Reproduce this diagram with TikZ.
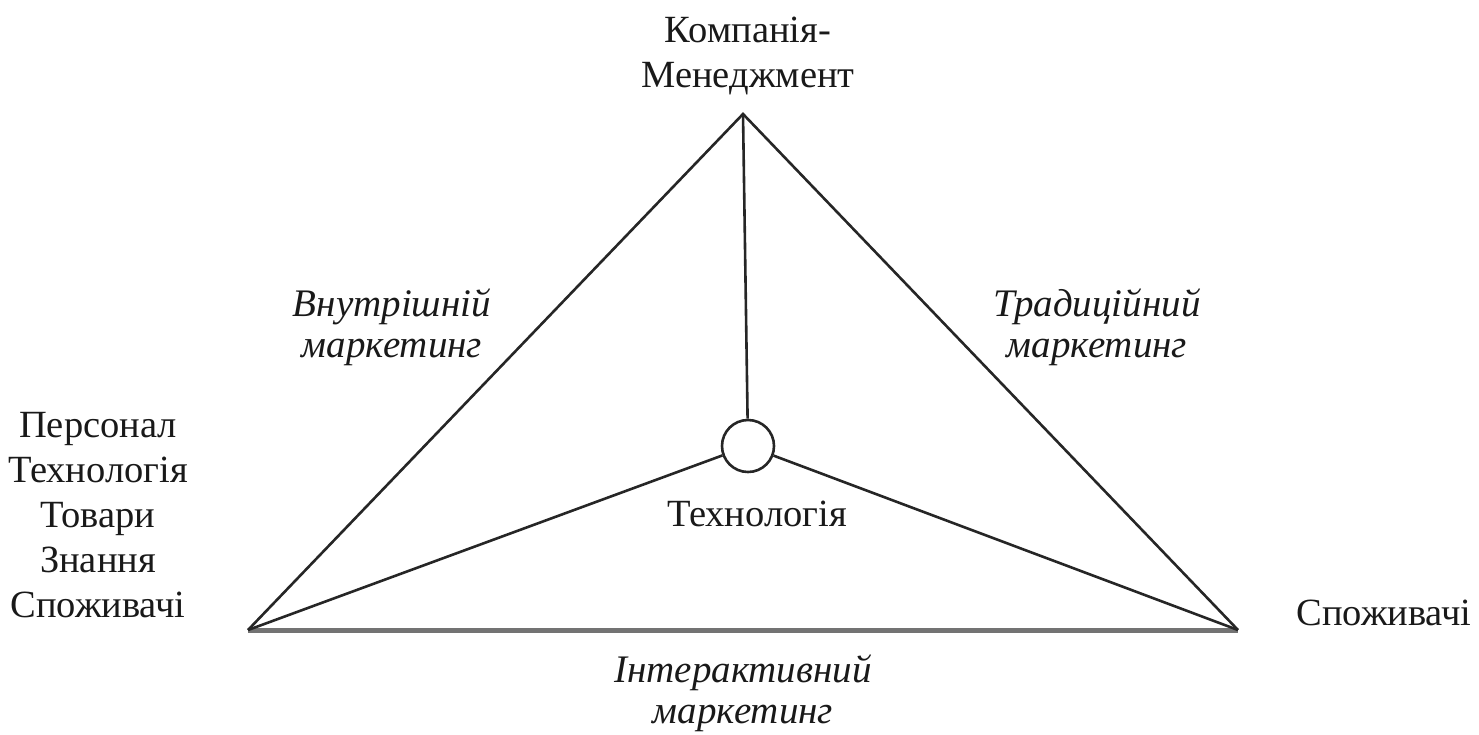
\documentclass[tikz,border=0pt]{standalone}
\usepackage{fontspec}
\setmainfont{Liberation Serif}
\begin{document}
\begin{tikzpicture}[x=1pt,y=-1pt,
  edge/.style={draw=black!85,line width=2.6pt,line join=miter},
  baseedge/.style={draw=black!55,line width=5pt},
  lbl/.style={align=center,font=\fontsize{38.5}{45}\selectfont,text=black!90,inner sep=0pt},
  ilbl/.style={lbl,font=\fontsize{39}{41}\selectfont\itshape}]
\useasboundingbox (0,0) rectangle (1479,734);
% vertices and hub
\coordinate (top) at (743,114);
\coordinate (bl) at (248,630);
\coordinate (br) at (1238,630);
\node[circle,draw=black!85,line width=2.6pt,minimum size=52pt,inner sep=0pt] (hub) at (748,446) {};
% triangle
\draw[baseedge] (bl) -- (br);
\draw[edge] (bl) -- (top) -- (br);
% spokes to the hub
\draw[edge] (top) -- (hub);
\draw[edge] (bl) -- (hub);
\draw[edge] (br) -- (hub);
% labels
\node[lbl] (company) at (748,56) {Компанія-\\Менеджмент};
\node[lbl] (left) at (98,515) {Персонал\\Технологія\\Товари\\Знання\\Споживачі};
\node[lbl] (right) at (1384,613) {Споживачі};
\node[lbl] (tech) at (757,514) {Технологія};
\node[ilbl] (inner) at (392,327) {Внутрішній\\маркетинг};
\node[ilbl] (trad) at (1097,327) {Традиційний\\маркетинг};
\node[ilbl] (inter) at (743,693) {Інтерактивний\\маркетинг};
\end{tikzpicture}
\end{document}
